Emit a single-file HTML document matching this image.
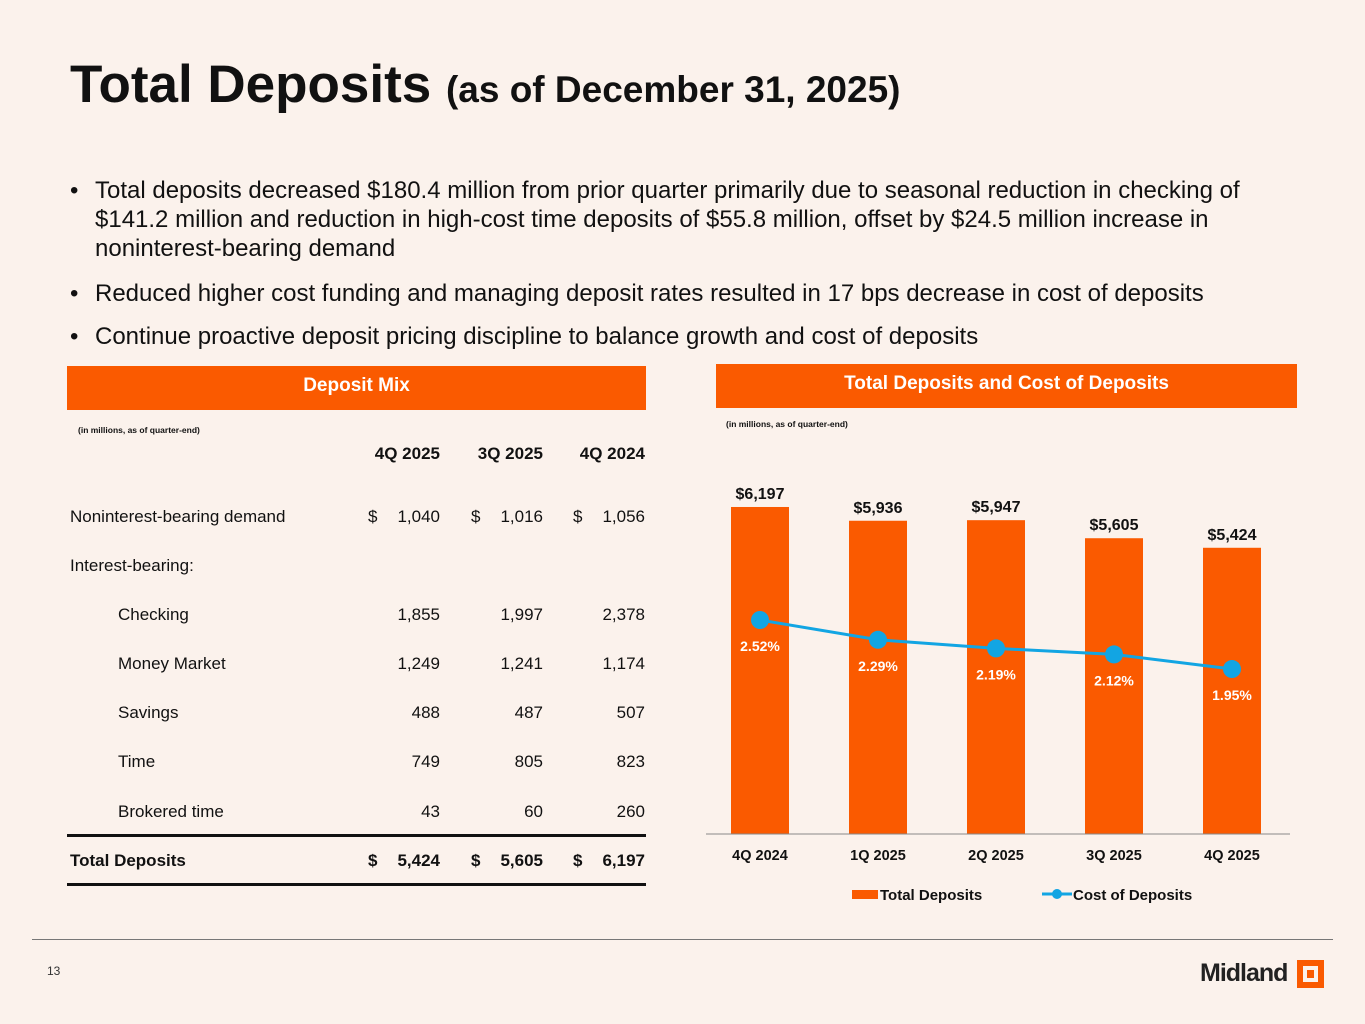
<!DOCTYPE html>
<html><head><meta charset="utf-8">
<style>
body{margin:0;background:#fbf2ec;font-family:"Liberation Sans",Arial,sans-serif;color:#111;}
#page{position:relative;width:1365px;height:1024px;overflow:hidden;background:#fbf2ec;}
.abs{position:absolute;}
h1{position:absolute;left:70px;top:54px;margin:0;font-size:53px;font-weight:bold;}
h1 span{font-size:37px;}
.bul{position:absolute;left:70px;font-size:24px;line-height:29px;width:1185px;}
.bul b{position:absolute;left:0;font-weight:normal;}
.bul div{margin-left:25px;}
.hdr{position:absolute;background:#fa5a00;color:#fff;font-weight:bold;font-size:19px;text-align:center;height:44px;line-height:40px;}
.sm{position:absolute;font-size:8.5px;font-weight:bold;}
.row{position:absolute;left:70px;width:576px;font-size:17px;height:22px;}
.row span{position:absolute;}
.c1{right:206px;}.c2{right:103px;}.c3{right:1px;}
</style></head><body>
<div id="page">
<h1>Total Deposits <span>(as of December 31, 2025)</span></h1>
<div class="bul" style="top:176px"><b>•</b><div>Total deposits decreased $180.4 million from prior quarter primarily due to seasonal reduction in checking of $141.2 million and reduction in high-cost time deposits of $55.8 million, offset by $24.5 million increase in noninterest-bearing demand</div></div>
<div class="bul" style="top:279px"><b>•</b><div>Reduced higher cost funding and managing deposit rates resulted in 17 bps decrease in cost of deposits</div></div>
<div class="bul" style="top:322px"><b>•</b><div>Continue proactive deposit pricing discipline to balance growth and cost of deposits</div></div>

<div class="hdr" style="left:67px;top:366px;width:579px">Deposit Mix</div>
<div class="sm" style="left:78px;top:425px">(in millions, as of quarter-end)</div>
<div class="row" style="top:444px;font-weight:bold"><span class="c1">4Q 2025</span><span class="c2">3Q 2025</span><span class="c3">4Q 2024</span></div>
<div class="row" style="top:507px"><span style="left:0">Noninterest-bearing demand</span><span style="left:298px">$</span><span class="c1">1,040</span><span style="left:401px">$</span><span class="c2">1,016</span><span style="left:503px">$</span><span class="c3">1,056</span></div>
<div class="row" style="top:556px"><span style="left:0">Interest-bearing:</span></div>
<div class="row" style="top:605px"><span style="left:48px">Checking</span><span class="c1">1,855</span><span class="c2">1,997</span><span class="c3">2,378</span></div>
<div class="row" style="top:654px"><span style="left:48px">Money Market</span><span class="c1">1,249</span><span class="c2">1,241</span><span class="c3">1,174</span></div>
<div class="row" style="top:703px"><span style="left:48px">Savings</span><span class="c1">488</span><span class="c2">487</span><span class="c3">507</span></div>
<div class="row" style="top:752px"><span style="left:48px">Time</span><span class="c1">749</span><span class="c2">805</span><span class="c3">823</span></div>
<div class="row" style="top:802px"><span style="left:48px">Brokered time</span><span class="c1">43</span><span class="c2">60</span><span class="c3">260</span></div>
<div class="abs" style="left:67px;top:834px;width:579px;height:3px;background:#111"></div>
<div class="row" style="top:851px;font-weight:bold"><span style="left:0">Total Deposits</span><span style="left:298px">$</span><span class="c1">5,424</span><span style="left:401px">$</span><span class="c2">5,605</span><span style="left:503px">$</span><span class="c3">6,197</span></div>
<div class="abs" style="left:67px;top:883px;width:579px;height:3px;background:#111"></div>

<div class="hdr" style="left:716px;top:364px;width:581px">Total Deposits and Cost of Deposits</div>
<div class="sm" style="left:726px;top:419px">(in millions, as of quarter-end)</div>
<svg class="abs" style="left:0;top:0" width="1365" height="1024" id="chart"></svg>

<div class="abs" style="left:32px;top:939px;width:1301px;height:1px;background:#777"></div>
<div class="abs" style="left:47px;top:964px;font-size:12px;color:#333">13</div>
<div class="abs" style="left:1200px;top:959px;font-size:25px;font-weight:bold;color:#222;letter-spacing:-1px">Midland</div>
<div class="abs" style="left:1297px;top:960px;width:15px;height:16px;border:6px solid #fa5a00;background:#fbf2ec"><div style="margin:4px 4px;width:7px;height:8px;background:#fa5a00"></div></div>
</div>
<script>
const categories=["4Q 2024","1Q 2025","2Q 2025","3Q 2025","4Q 2025"];
const deposits=[6197,5936,5947,5605,5424];
const depositLabels=["$6,197","$5,936","$5,947","$5,605","$5,424"];
const costs=[2.52,2.29,2.19,2.12,1.95];
const costLabels=["2.52%","2.29%","2.19%","2.12%","1.95%"];
const svg=document.getElementById('chart');
const NS="http://www.w3.org/2000/svg";
const base=834;
function xPos(i){return 760+i*118;}
function yBar(v){return base-v*0.05277;}
function yLine(v){return 620+(2.52-v)*86;}
function mk(t,a,txt){const e=document.createElementNS(NS,t);for(const k in a)e.setAttribute(k,a[k]);if(txt!==undefined)e.textContent=txt;svg.appendChild(e);return e;}
let e;
deposits.forEach((v,i)=>{
 e=mk('rect',{x:xPos(i)-29,y:yBar(v),width:58,height:base-yBar(v),fill:'#fa5a00'});
 
 
 e=mk('text',{x:xPos(i),y:yBar(v)-8,'text-anchor':'middle','font-size':16,'font-weight':'bold',fill:'#111','font-family':'Liberation Sans'},depositLabels[i]);
 
 
 e=mk('text',{x:xPos(i),y:base+26,'text-anchor':'middle','font-size':14.5,'font-weight':'bold',fill:'#111','font-family':'Liberation Sans'},categories[i]);
 
 
});
e=mk('line',{x1:706,x2:1290,y1:base,y2:base,stroke:'#888','stroke-width':1});


e=mk('polyline',{points:costs.map((v,i)=>xPos(i)+','+yLine(v)).join(' '),fill:'none',stroke:'#12a5e3','stroke-width':3});


costs.forEach((v,i)=>{
 e=mk('circle',{cx:xPos(i),cy:yLine(v),r:9,fill:'#12a5e3'});
 
 
 e=mk('text',{x:xPos(i),y:yLine(v)+31,'text-anchor':'middle','font-size':14,'font-weight':'bold',fill:'#fff','font-family':'Liberation Sans'},costLabels[i]);
 
 
});
e=mk('rect',{x:852,y:890,width:26,height:9,fill:'#fa5a00'});


e=mk('text',{x:880,y:900,'font-size':15,'font-weight':'bold',fill:'#111','font-family':'Liberation Sans'},'Total Deposits');


e=mk('line',{x1:1042,x2:1072,y1:894,y2:894,stroke:'#12a5e3','stroke-width':3});


e=mk('circle',{cx:1057,cy:894,r:5,fill:'#12a5e3'});


e=mk('text',{x:1073,y:900,'font-size':15,'font-weight':'bold',fill:'#111','font-family':'Liberation Sans'},'Cost of Deposits');


</script>
</body></html>
